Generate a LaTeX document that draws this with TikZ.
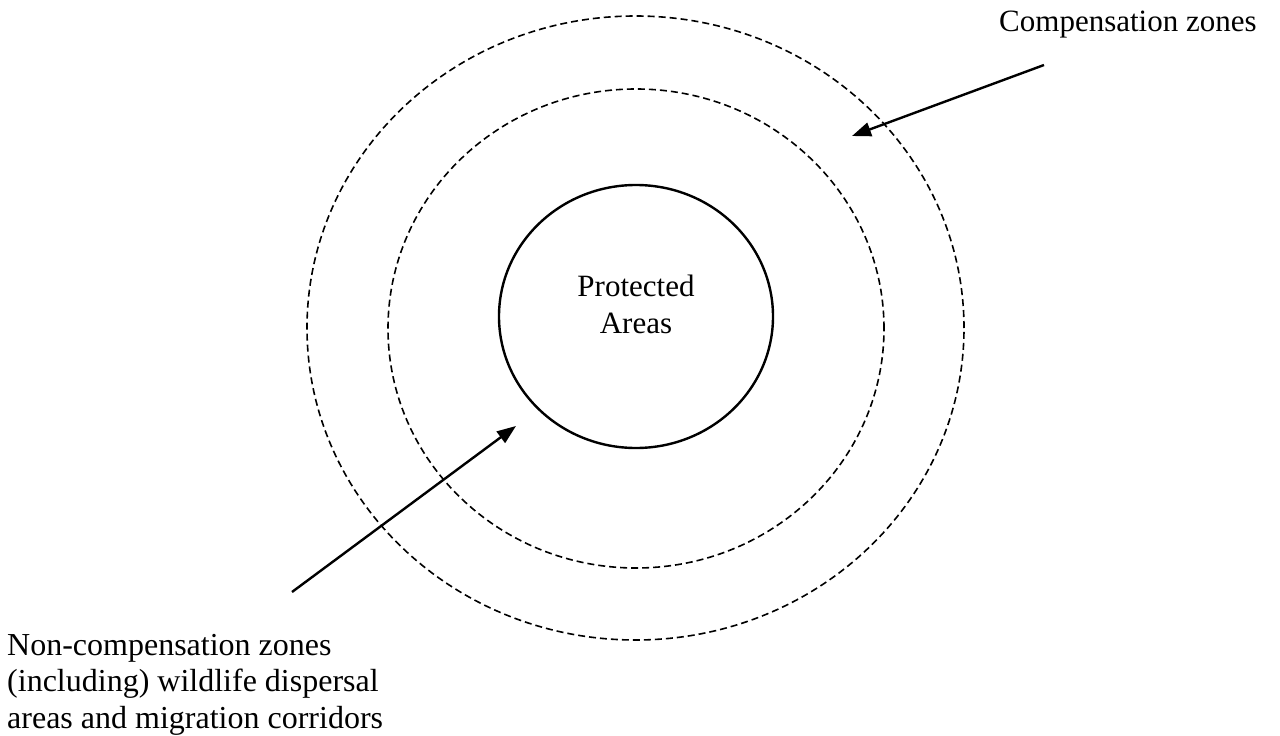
\documentclass[tikz,border=0pt]{standalone}
\usepackage{fontspec}
\setmainfont{Liberation Serif}
\usetikzlibrary{shapes.geometric,arrows.meta}
\tikzset{
  zone/.style={draw, ellipse, dash pattern=on 7bp off 4bp, line width=1.6bp, inner sep=0pt},
  core/.style={draw, ellipse, line width=2.4bp, inner sep=0pt},
  lbl/.style={inner sep=0pt, font=\fontsize{31bp}{36.8bp}\selectfont},
  biglbl/.style={inner sep=0pt, font=\fontsize{32bp}{36.5bp}\selectfont},
  pointer/.style={line width=2.4bp, -{Triangle[length=19bp,width=14bp]}}
}
\begin{document}
\begin{tikzpicture}[x=1bp,y=-1bp]
\useasboundingbox (0,0) rectangle (1280,736);
\node[zone, minimum width=657bp, minimum height=624bp] (outer) at (635.5,328) {};
\node[zone, minimum width=496bp, minimum height=479bp] (middle) at (636,328.5) {};
\node[core, minimum width=274bp, minimum height=263bp] (inner) at (636,316.5) {};
\node[lbl, align=center, anchor=base] (pa) at (636,333) {Protected\\Areas};
\node[lbl, anchor=base west] (comp) at (999,32) {Compensation zones};
\node[biglbl, align=left, anchor=base west] (noncomp) at (7,728) {Non-compensation zones\\(including) wildlife dispersal\\areas and migration corridors};
\coordinate (cs) at (1044,65);
\coordinate (ct) at (852,136);
\coordinate (ns) at (292,592);
\coordinate (nt) at (516,426);
\draw[pointer] (cs) -- (ct);
\draw[pointer] (ns) -- (nt);
\end{tikzpicture}
\end{document}
